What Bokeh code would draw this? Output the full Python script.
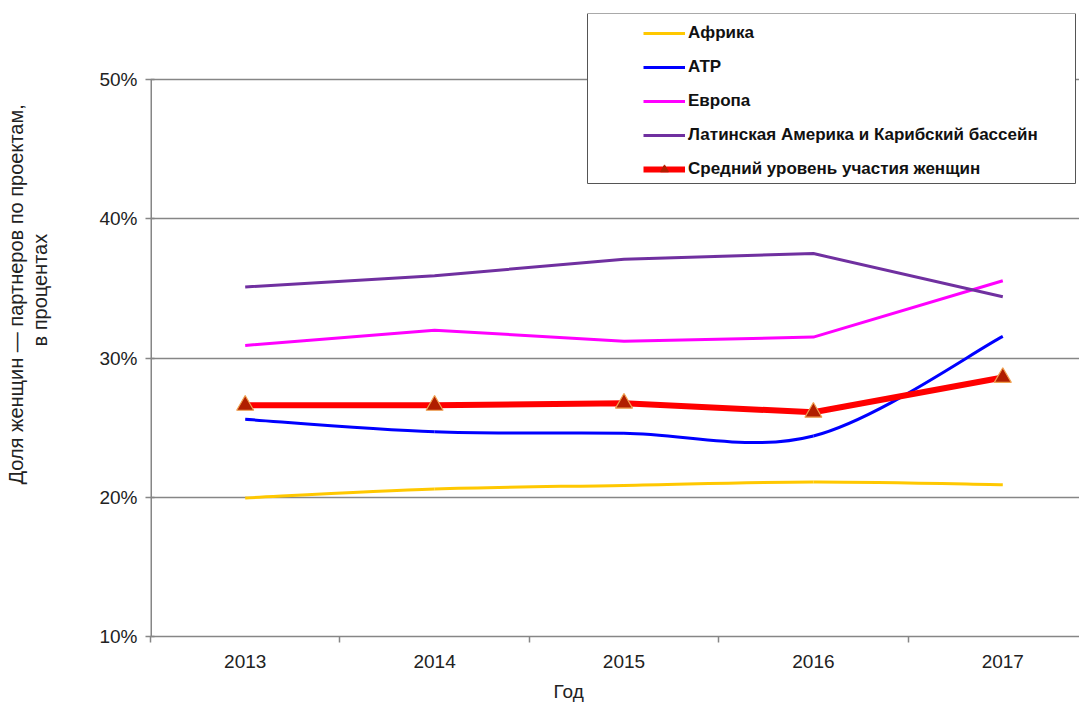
import math
from bokeh.plotting import figure
from bokeh.models import (FixedTicker, Legend, LegendItem, BoxAnnotation, Title,
                          ColumnDataSource, Range1d)
from bokeh.embed import file_html
from bokeh.resources import INLINE

# ---- data (percent) ----
years = [2013, 2014, 2015, 2016, 2017]
africa = [19.95, 20.6, 20.85, 21.1, 20.9]
apr = [25.6, 24.7, 24.6, 24.4, 31.55]
europe = [30.9, 32.0, 31.2, 31.5, 35.55]
latam = [35.1, 35.9, 37.1, 37.5, 34.4]
average = [26.6, 26.6, 26.75, 26.1, 28.6]

series_names = ["Африка", "АТР", "Европа",
                "Латинская Америка и Карибский бассейн",
                "Средний уровень участия женщин"]
y_ticks = [10, 20, 30, 40, 50]
y_tick_labels = ["10%", "20%", "30%", "40%", "50%"]
x_label = "Год"
y_label_lines = ["Доля женщин — партнеров по проектам,", "в процентах"]

FONT = "Liberation Sans"
GRID = "#868686"
NAN = float("nan")

# frame spans y from 13 px (legend top) to 636 px; 10 % = 139.25 px
y_top = 10 + (636 - 13) / 13.925

p = figure(width=1079, height=709,
           x_range=Range1d(2012.5, 2017.405), y_range=Range1d(10, y_top),
           output_backend="svg", toolbar_location=None,
           min_border_left=150, min_border_right=0,
           min_border_top=13, min_border_bottom=73)
p.outline_line_color = None
p.background_fill_color = "white"

# grid
p.xgrid.visible = False
p.ygrid.ticker = FixedTicker(ticks=y_ticks)
p.ygrid.grid_line_color = GRID
p.ygrid.grid_line_width = 1.5

# y axis
ya = p.yaxis[0]
ya.ticker = FixedTicker(ticks=y_ticks)
ya.major_label_overrides = {t: l for t, l in zip(y_ticks, y_tick_labels)}
ya.axis_line_color = None
ya.major_tick_line_color = GRID
ya.major_tick_line_width = 1.5
ya.major_tick_in = 4
ya.major_tick_out = 5
ya.minor_tick_line_color = None
ya.major_label_text_font = FONT
ya.major_label_text_font_size = "19px"
ya.major_label_text_color = "#222222"
ya.major_label_standoff = 8
# visible part of the value axis: 10 % .. 50 %
p.segment(x0=[2012.5], y0=[y_ticks[0]], x1=[2012.5], y1=[y_ticks[-1]],
          line_color=GRID, line_width=3)

# x axis
boundaries = [y - 0.5 for y in years] + [years[-1] + 0.5]
xa = p.xaxis[0]
xa.ticker = FixedTicker(ticks=years, minor_ticks=boundaries)
xa.axis_line_color = GRID
xa.axis_line_width = 1.5
xa.major_tick_line_color = None
xa.major_tick_in = 0
xa.major_tick_out = 0
xa.minor_tick_line_color = GRID
xa.minor_tick_line_width = 1.5
xa.minor_tick_in = 0
xa.minor_tick_out = 6
xa.major_label_text_font = FONT
xa.major_label_text_font_size = "19px"
xa.major_label_text_color = "#222222"
xa.major_label_standoff = 12


def smooth(xs, ys):
    """Catmull-Rom style bezier segments (spreadsheet 'smoothed line')."""
    n = len(xs)
    pts = list(zip(xs, ys))
    out = dict(x0=[], y0=[], x1=[], y1=[], cx0=[], cy0=[], cx1=[], cy1=[])
    for i in range(n - 1):
        p0 = pts[i - 1] if i > 0 else pts[i]
        p1 = pts[i]
        p2 = pts[i + 1]
        p3 = pts[i + 2] if i + 2 < n else pts[i + 1]
        out["x0"].append(p1[0]); out["y0"].append(p1[1])
        out["x1"].append(p2[0]); out["y1"].append(p2[1])
        out["cx0"].append(p1[0] + (p2[0] - p0[0]) / 6)
        out["cy0"].append(p1[1] + (p2[1] - p0[1]) / 6)
        out["cx1"].append(p2[0] - (p3[0] - p1[0]) / 6)
        out["cy1"].append(p2[1] - (p3[1] - p1[1]) / 6)
    return ColumnDataSource(out)


def proxy():
    return ColumnDataSource(dict(x=[NAN, NAN], y=[NAN, NAN]))


colors = ["#FFC800", "#0000FF", "#FF00FF", "#7030A0", "#FF0000"]
widths = [3, 3, 3, 3, 6]
legend_items = []

# Africa (smoothed)
p.bezier(x0="x0", y0="y0", x1="x1", y1="y1", cx0="cx0", cy0="cy0", cx1="cx1", cy1="cy1",
         source=smooth(years, africa), line_color=colors[0], line_width=widths[0])
r = p.line("x", "y", source=proxy(), line_color=colors[0], line_width=widths[0])
legend_items.append(LegendItem(label=series_names[0], renderers=[r]))

# APR (smoothed)
p.bezier(x0="x0", y0="y0", x1="x1", y1="y1", cx0="cx0", cy0="cy0", cx1="cx1", cy1="cy1",
         source=smooth(years, apr), line_color=colors[1], line_width=widths[1])
r = p.line("x", "y", source=proxy(), line_color=colors[1], line_width=widths[1])
legend_items.append(LegendItem(label=series_names[1], renderers=[r]))

# Europe
r = p.line(years, europe, line_color=colors[2], line_width=widths[2])
legend_items.append(LegendItem(label=series_names[2], renderers=[r]))

# Latin America
r = p.line(years, latam, line_color=colors[3], line_width=widths[3])
legend_items.append(LegendItem(label=series_names[3], renderers=[r]))

# Average
r1 = p.line(years, average, line_color=colors[4], line_width=widths[4])
r2 = p.scatter(years, average, marker="triangle", size=17,
               fill_color="#B01E00", line_color="#F0A050", line_width=1.2)
rl2 = p.scatter("x", "y", source=proxy(), marker="triangle", size=8,
                fill_color="#B01E00", line_color="#B01E00", line_width=1)
legend_items.append(LegendItem(label=series_names[4], renderers=[r1, rl2]))

# legend box
box = BoxAnnotation(left=437, right=925, top=623, bottom=453,
                    left_units="screen", right_units="screen",
                    top_units="screen", bottom_units="screen",
                    fill_color="white", fill_alpha=1.0,
                    line_color="#555555", line_width=1, line_alpha=1.0)
p.add_layout(box)

legend = Legend(items=legend_items, location=(493, 457))
legend.border_line_color = None
legend.background_fill_alpha = 0
legend.padding = 7
legend.margin = 0
legend.spacing = 14
legend.glyph_width = 42
legend.glyph_height = 20
legend.label_height = 20
legend.label_standoff = 3
legend.label_text_font = FONT
legend.label_text_font_style = "bold"
legend.label_text_font_size = "17px"
legend.label_text_color = "#111111"
p.add_layout(legend)

# axis titles (a blank spacer keeps them at the outer edge, as in the source)
p.add_layout(Title(text=" ", text_font_size="10px", standoff=33), "left")
p.add_layout(Title(text=y_label_lines[1], align="left", offset=290, standoff=0,
                   text_font=FONT, text_font_size="20px",
                   text_font_style="normal", text_color="#222222"), "left")
p.add_layout(Title(text=y_label_lines[0], align="left", offset=152, standoff=0,
                   text_font=FONT, text_font_size="20px",
                   text_font_style="normal", text_color="#222222"), "left")
p.add_layout(Title(text=x_label, align="left", offset=403, standoff=16,
                   text_font=FONT, text_font_size="19px",
                   text_font_style="normal", text_color="#222222"), "below")

open("out.html", "w").write(file_html(p, INLINE))
